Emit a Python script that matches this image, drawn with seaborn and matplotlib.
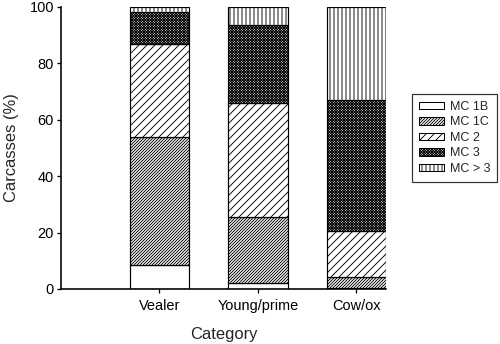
import matplotlib
matplotlib.use("Agg")
import matplotlib.pyplot as plt
import seaborn as sns
import pandas as pd
import numpy as np
from matplotlib.patches import Patch

categories = ["Vealer", "Young/prime", "Cow/ox"]
mc_1b = [8.5, 2.3, 0.3]
mc_1c = [45.3, 23.1, 4.1]
mc_2 = [33.1, 40.4, 16.2]
mc_3 = [11.2, 27.8, 46.4]
mc_gt3 = [1.9, 6.4, 33.0]
series_names = ["MC 1B", "MC 1C", "MC 2", "MC 3", "MC > 3"]
series_values = [mc_1b, mc_1c, mc_2, mc_3, mc_gt3]
hatches = ["", "////////", "///", "xxxxxxxxx", "|||"]

sns.set_style("ticks")
plt.rcParams["font.family"] = ["Liberation Sans", "DejaVu Sans"]
plt.rcParams["hatch.linewidth"] = 0.9

dpi = 72
fig = plt.figure(figsize=(500 / dpi, 344 / dpi), dpi=dpi)
ax = fig.add_axes([61 / 500, 1 - 289 / 344, (386 - 61) / 500, (289 - 7) / 344])

bottom = np.zeros(len(categories))
for name, vals, h in zip(series_names, series_values, hatches):
    df = pd.DataFrame({"Category": categories, "value": vals})
    n_before = len(ax.patches)
    sns.barplot(data=df, x="Category", y="value", order=categories,
                bottom=bottom, color="white", edgecolor="black",
                linewidth=1.2, width=0.6, ax=ax, errorbar=None)
    for p in ax.patches[n_before:]:
        p.set_hatch(h)
        p.set_facecolor("white")
        p.set_edgecolor("black")
    bottom = bottom + np.array(vals)

ax.set_xlim(-1.0, 2.3)
ax.set_ylim(0, 100)
ax.set_yticks([0, 20, 40, 60, 80, 100])
ax.set_xlabel("Category", fontsize=16.5, labelpad=14)
ax.set_ylabel("Carcasses (%)", fontsize=16.5, labelpad=11)
ax.tick_params(axis="both", labelsize=14.5, direction="out", length=4, width=1.3,
               colors="black", pad=3)
ax.tick_params(axis="x", pad=6)
for s in ["left", "bottom"]:
    ax.spines[s].set_linewidth(1.6)
    ax.spines[s].set_color("black")
sns.despine(ax=ax)

handles = [Patch(facecolor="white", edgecolor="black", hatch=h, label=n)
           for n, h in zip(series_names, hatches)]
leg = fig.legend(handles=handles, loc="upper left",
                 bbox_to_anchor=(412 / 500, 1 - 94 / 344), fontsize=12.5,
                 frameon=True, fancybox=False, edgecolor="black",
                 handlelength=2.0, handleheight=0.55, labelspacing=0.28,
                 handletextpad=0.45, borderpad=0.55, borderaxespad=0)
leg.get_frame().set_linewidth(1.2)

fig.savefig("out.png", dpi=dpi, facecolor="white")
